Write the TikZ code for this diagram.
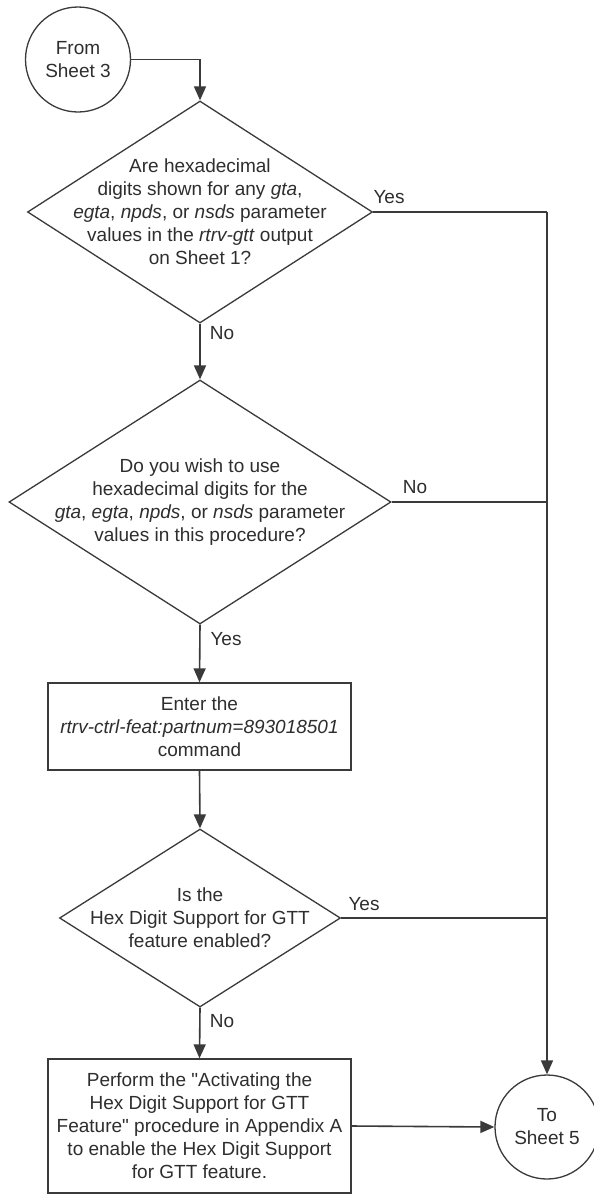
\documentclass[tikz,border=0pt]{standalone}
\usepackage{fontspec}
\setmainfont{Liberation Sans}
\usetikzlibrary{shapes.geometric,arrows.meta}
\definecolor{linec}{HTML}{3A3A3A}
\definecolor{textc}{HTML}{2E2E2E}
\begin{document}
\begin{tikzpicture}[x=1pt,y=-1pt,
  every node/.style={text=textc,font=\fontsize{19}{23}\selectfont},
  shapeline/.style={draw=linec,line width=1.3pt},
  dec/.style={shapeline,shape=diamond,inner sep=0pt},
  procbox/.style={shapeline,rectangle,inner sep=0pt,minimum width=303pt},
  conn/.style={shapeline,circle,inner sep=0pt,minimum size=105pt},
  txt/.style={align=center,inner sep=0pt},
  lbl/.style={inner sep=0pt},
  flow/.style={draw=linec,line width=1.6pt},
  arr/.style={flow,-{Triangle[length=14pt,width=12pt]}}
]
\useasboundingbox (0,0) rectangle (594,1194);
\fill[white] (0,0) rectangle (594,1194);

% connectors (circles)
\node[conn] (c1) at (78,59.5) {};
\node[txt] (c1t) at (c1.center) {From\\Sheet 3};
\node[conn,minimum size=104pt] (c2) at (547,1127) {};
\node[txt] (c2t) at (c2.center) {To\\Sheet 5};

% decisions and processes
\node[dec,minimum width=345pt,minimum height=222pt] (d1) at (200,212) {};
\node[txt] (d1t) at (d1.center) {Are hexadecimal\\digits shown for any \textit{gta},\\\textit{egta}, \textit{npds}, or \textit{nsds} parameter\\values in the \textit{rtrv-gtt} output\\on Sheet 1?};

\node[dec,minimum width=382pt,minimum height=244pt] (d2) at (200,502) {};
\node[txt] (d2t) at (d2.center) {Do you wish to use\\hexadecimal digits for the\\\textit{gta}, \textit{egta}, \textit{npds}, or \textit{nsds} parameter\\values in this procedure?};

\node[procbox,minimum height=87pt] (b1) at (199.5,726.5) {};
\node[txt] (b1t) at (b1.center) {Enter the\\\textit{rtrv-ctrl-feat:partnum=893018501}\\command};

\node[dec,minimum width=281pt,minimum height=178pt] (d3) at (200,918) {};
\node[txt] (d3t) at (d3.center) {Is the\\Hex Digit Support for GTT\\feature enabled?};

\node[procbox,minimum height=134pt] (b2) at (199.5,1126) {};
\node[txt] (b2t) at (b2.center) {Perform the \textquotedbl Activating the\\Hex Digit Support for GTT\\Feature\textquotedbl{} procedure in Appendix A\\to enable the Hex Digit Support\\for GTT feature.};

% junction coordinates on right line
\coordinate (j1) at (547,212);
\coordinate (j2) at (547,502);
\coordinate (j3) at (547,918);

% flow lines
\draw[arr] (c1.east) -| (d1.north);
\draw[arr] (d1.south) -- (d2.north);
\draw[arr] (d2.south) -- (b1.north);
\draw[arr] (b1.south) -- (d3.north);
\draw[arr] (d3.south) -- (b2.north);
\draw[arr] (b2.east) -- (c2.west);
\draw[flow] (d1.east) -- (j1);
\draw[arr] (j1) -- (c2.north);
\draw[flow] (d2.east) -- (j2);
\draw[flow] (d3.east) -- (j3);

% labels
\node[lbl] (l1) at (389,197) {Yes};
\node[lbl] (l2) at (222,333) {No};
\node[lbl] (l3) at (415,487) {No};
\node[lbl] (l4) at (226,639) {Yes};
\node[lbl] (l5) at (364,904) {Yes};
\node[lbl] (l6) at (222,1021) {No};
\end{tikzpicture}
\end{document}
